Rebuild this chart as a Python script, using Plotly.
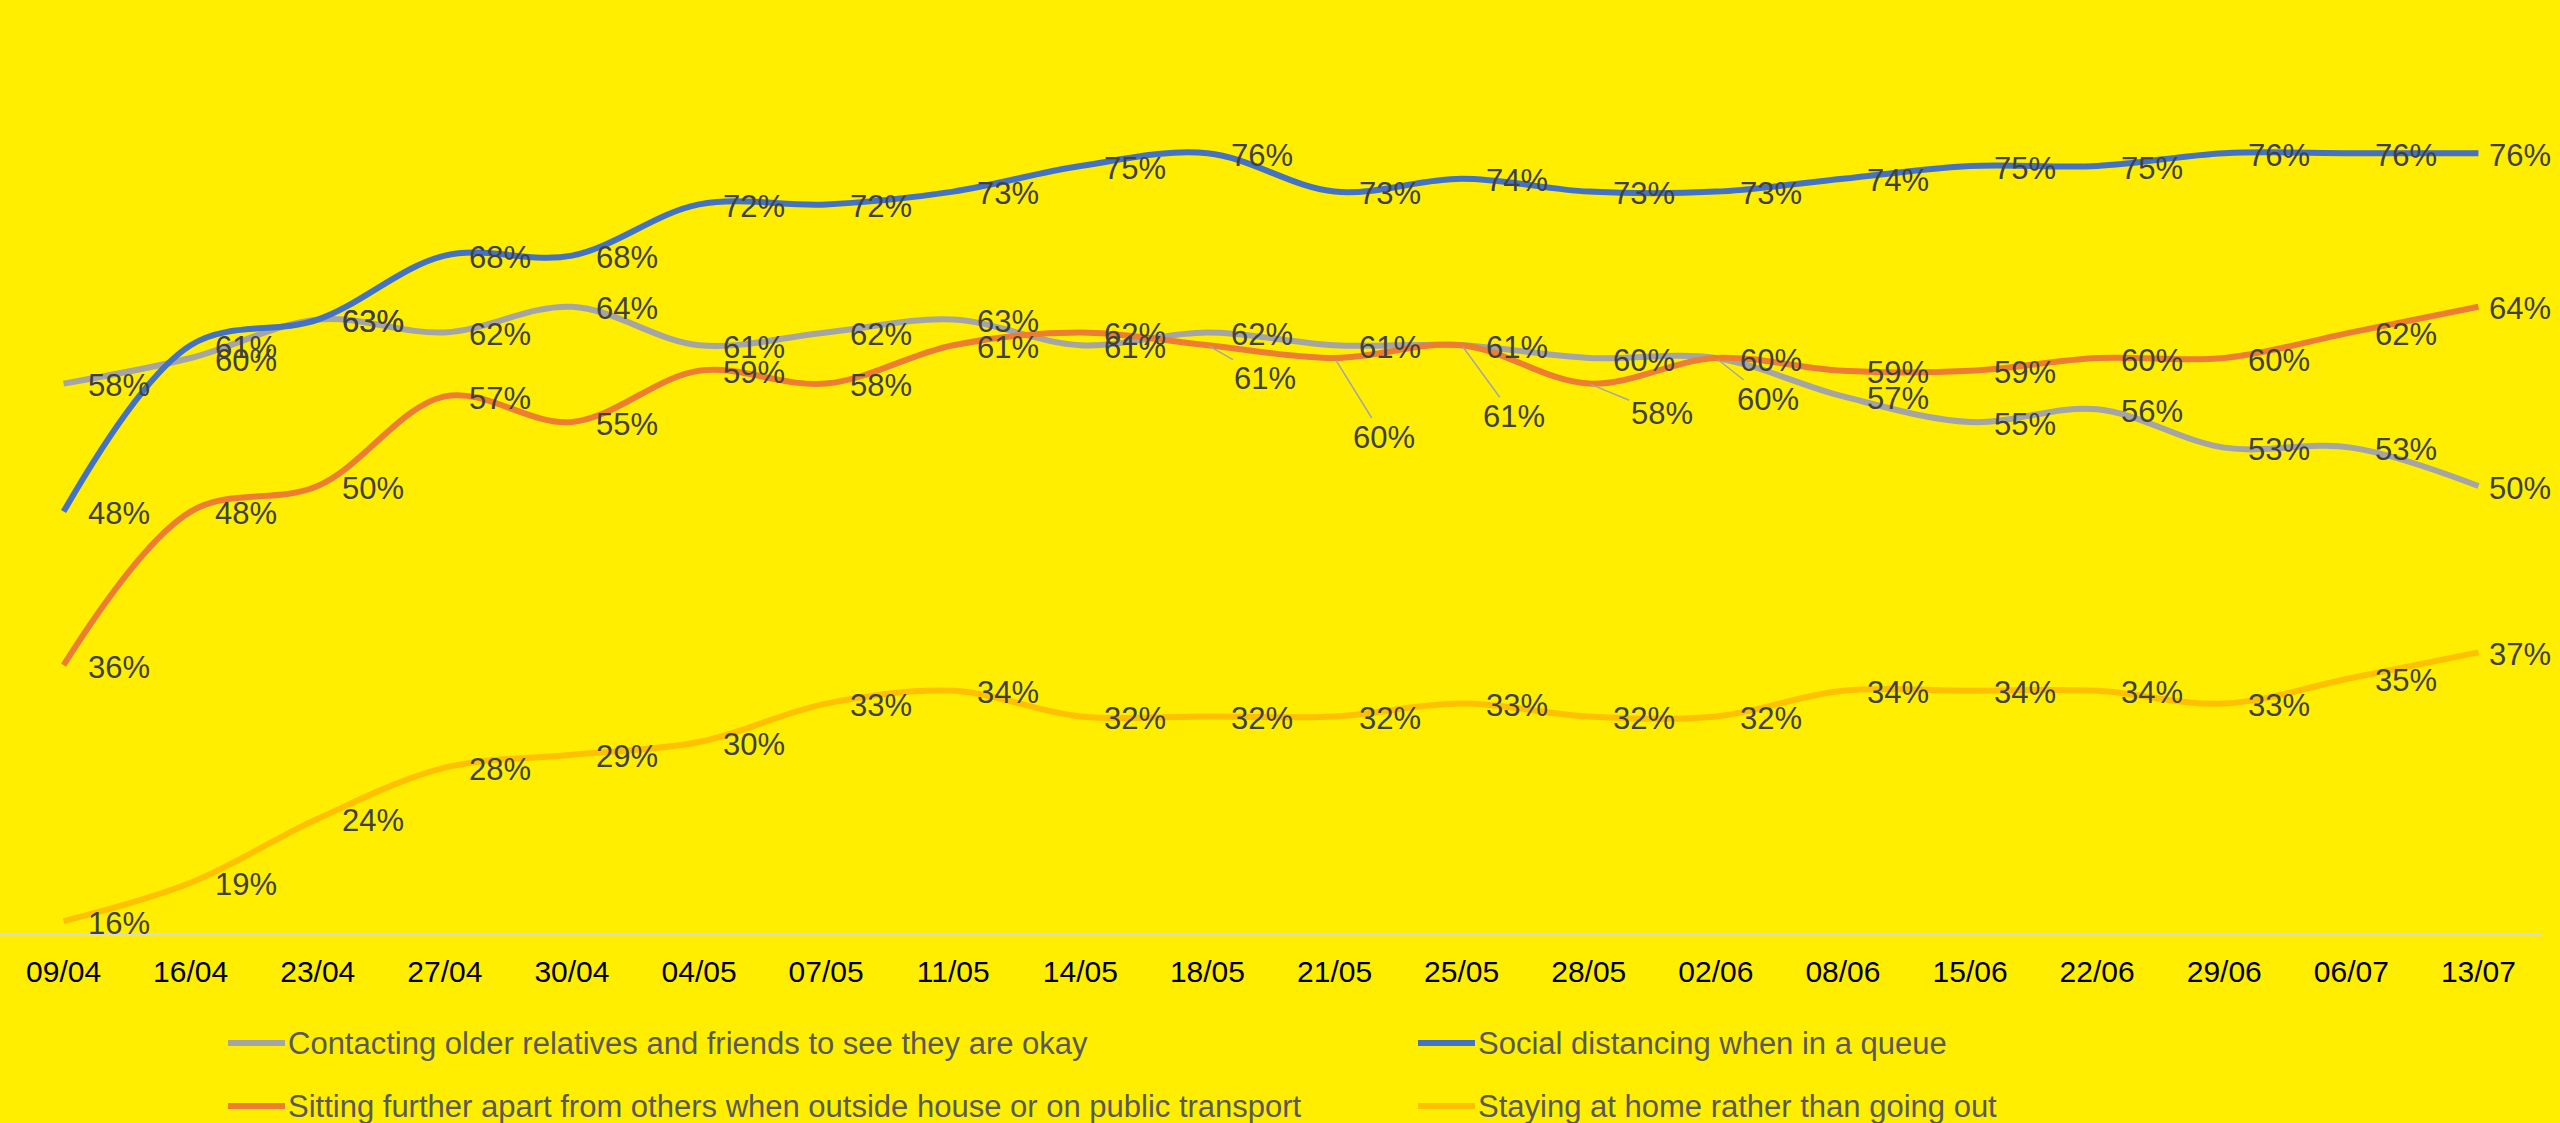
import plotly.graph_objects as go

# ---------------- data ----------------
dates = ["09/04", "16/04", "23/04", "27/04", "30/04", "04/05", "07/05", "11/05", "14/05", "18/05",
         "21/05", "25/05", "28/05", "02/06", "08/06", "15/06", "22/06", "29/06", "06/07", "13/07"]

contacting = [58, 60, 63, 62, 64, 61, 62, 63, 61, 62, 61, 61, 60, 60, 57, 55, 56, 53, 53, 50]
social_queue = [48, 61, 63, 68, 68, 72, 72, 73, 75, 76, 73, 74, 73, 73, 74, 75, 75, 76, 76, 76]
sitting_apart = [36, 48, 50, 57, 55, 59, 58, 61, 62, 61, 60, 61, 58, 60, 59, 59, 60, 60, 62, 64]
staying_home = [16, 19, 24, 28, 29, 30, 33, 34, 32, 32, 32, 33, 32, 32, 34, 34, 34, 33, 35, 37]

series_names = [
    "Contacting older relatives and friends to see they are okay",
    "Social distancing when in a queue",
    "Sitting further apart from others when outside house or on public transport",
    "Staying at home rather than going out",
]
series_values = [contacting, social_queue, sitting_apart, staying_home]

# ---------------- style ----------------
colors = ["#A5A5A5", "#4472C4", "#ED7D31", "#FFC000"]
BG = "#FFEE00"
FONT = "Liberation Sans, Arial, sans-serif"
FS_LABEL = 31
FS_LEG = 31
FS_TICK = 30
W, H = 2560, 1123
ML, MR, MT, MB = 0, 18, 102, 189
PW, PH = W - ML - MR, H - MT - MB

# callout (leader-line) labels: (series index, point index) -> pixel offset of label centre
callouts = {
    (2, 9): (58, 33),
    (2, 10): (49, 79),
    (2, 11): (52, 71),
    (2, 12): (73, 30),
    (0, 13): (52, 41),
}

x_idx = list(range(len(dates)))
fig = go.Figure()
for name, vals, col in zip(series_names, series_values, colors):
    fig.add_trace(go.Scatter(
        x=x_idx, y=vals, mode="lines", name=name,
        line=dict(color=col, width=6, shape="spline", smoothing=1.0),
        showlegend=False, hoverinfo="skip",
    ))

annotations = []
last = len(dates) - 1
for si, vals in enumerate(series_values):
    for i, v in enumerate(vals):
        txt = f"{v}%"
        if (si, i) in callouts:
            ax, ay = callouts[(si, i)]
            annotations.append(dict(
                x=i, y=v, xref="x", yref="y", text=txt, showarrow=True,
                arrowhead=0, arrowwidth=1.5, arrowcolor="#A6A6A6",
                ax=ax, ay=ay, standoff=2,
                font=dict(family=FONT, size=FS_LABEL, color="#404040"),
            ))
        else:
            annotations.append(dict(
                x=i, y=v, xref="x", yref="y", text=txt, showarrow=False,
                xanchor="left", yanchor="middle",
                xshift=9 if i == last else 22, yshift=-2,
                font=dict(family=FONT, size=FS_LABEL, color="#404040"),
            ))

# manual legend (2 columns x 2 rows)
leg_rows_px = [1043, 1106]
leg_cols_px = [228, 1418]
sym_len = 57
shapes = []
for k, (name, col) in enumerate(zip(series_names, colors)):
    r, c = divmod(k, 2)
    ypx = leg_rows_px[r]
    xpx = leg_cols_px[c]
    yp = (H - MB - ypx) / PH
    x0 = (xpx - ML) / PW
    x1 = (xpx + sym_len - ML) / PW
    shapes.append(dict(type="line", xref="paper", yref="paper", x0=x0, x1=x1, y0=yp, y1=yp,
                       line=dict(color=col, width=6)))
    annotations.append(dict(
        x=(xpx + sym_len + 1 - ML) / PW, y=yp, xref="paper", yref="paper",
        text=name, showarrow=False, xanchor="left", yanchor="middle",
        font=dict(family=FONT, size=FS_LEG, color="#595959"),
    ))

fig.update_layout(
    width=W, height=H,
    paper_bgcolor=BG, plot_bgcolor=BG,
    margin=dict(l=ML, r=MR, t=MT, b=MB),
    showlegend=False,
    annotations=annotations,
    shapes=shapes,
    xaxis=dict(
        range=[-0.5, last + 0.5], tickmode="array", tickvals=x_idx, ticktext=dates,
        showgrid=False, zeroline=False, showline=True, linecolor="#D9D9D9", linewidth=2,
        ticks="", tickfont=dict(family=FONT, size=FS_TICK, color="#000000"),
        ticklabelstandoff=10, fixedrange=True,
    ),
    yaxis=dict(
        range=[15, 80], visible=False, showgrid=False, zeroline=False, fixedrange=True,
    ),
)

fig.write_html(
    "out.html",
    config={"displayModeBar": False},
    post_script="document.body.style.margin='0';document.body.style.padding='0';"
                "document.body.style.background='" + BG + "';",
)
